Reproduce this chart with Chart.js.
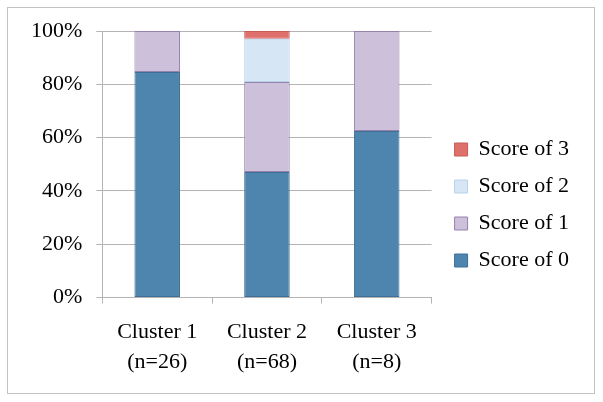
<!DOCTYPE html>
<html>
<head>
<meta charset="utf-8">
<script src="https://cdn.jsdelivr.net/npm/chart.js@4/dist/chart.umd.min.js"></script>
<style>
    html, body { margin: 0; padding: 0; background: #fff; }
    #frame {
        position: absolute; left: 7px; top: 7px;
        width: 586px; height: 385px;
        border: 1px solid #c3c3c3;
    }
    #wrap { position: absolute; left: 0; top: 0; width: 603px; height: 402px; }
</style>
</head>
<body>
<div id="frame"></div>
<div id="wrap"><canvas id="chart"></canvas></div>
<script>
// --- DATA ---
const clusters = [['Cluster 1', '(n=26)'], ['Cluster 2', '(n=68)'], ['Cluster 3', '(n=8)']];
const seriesNames = ['Score of 0', 'Score of 1', 'Score of 2', 'Score of 3'];
const score0 = [84.6, 47.1, 62.5];
const score1 = [15.4, 33.8, 37.5];
const score2 = [0, 16.2, 0];
const score3 = [0, 2.9, 0];
const yTicks = [0, 20, 40, 60, 80, 100];

// --- STYLE ---
const fills = ['#4e85ae', '#ccc0da', '#d6e6f5', '#de6f6a'];
const borders = ['#3f6f96', '#9583ad', '#b8d2ec', '#c95a55'];
const serif = "'Liberation Serif', 'Times New Roman', serif";
const gridColor = '#b4b4b4';
const legendGap = 8;    // extra room between plot and legend
const legendLift = -6;  // nudge legend items up

const seriesValues = [score0, score1, score2, score3];

const datasets = seriesValues.map((vals, i) => ({
    label: seriesNames[i],
    data: vals,
    backgroundColor: fills[i],
    borderColor: borders[i],
    borderWidth: 1,
    borderSkipped: false,
    barPercentage: 0.83,
    categoryPercentage: 0.5
}));

// widen the legend box on its left side so the plot ends earlier
const legendSpacer = {
    id: 'legendSpacer',
    beforeLayout(chart) {
        const lg = chart.legend;
        if (!lg || lg._spaced) return;
        lg._spaced = true;
        const fit = lg.fit;
        lg.fit = function () { fit.call(this); this.width += legendGap; };
        const draw = lg.draw;
        lg.draw = function () {
            const c = this.ctx;
            c.save();
            c.translate(legendGap, legendLift);
            draw.apply(this, arguments);
            c.restore();
        };
    }
};

window.onload = () => {
    const ctx = document.getElementById('chart').getContext('2d');
    new Chart(ctx, {
        type: 'bar',
        data: { labels: clusters, datasets: datasets },
        plugins: [legendSpacer],
        options: {
            responsive: true,
            maintainAspectRatio: false,
            animation: false,
            layout: { padding: { left: 17, right: 24, top: 31, bottom: 11 } },
            scales: {
                x: {
                    stacked: true,
                    grid: {
                        drawOnChartArea: false,
                        drawTicks: true,
                        tickLength: 6,
                        color: gridColor
                    },
                    border: { color: gridColor },
                    ticks: {
                        color: '#000',
                        padding: 14,
                        font: { family: serif, size: 22, lineHeight: 1.35 }
                    }
                },
                y: {
                    stacked: true,
                    min: 0,
                    max: 100,
                    afterBuildTicks: axis => { axis.ticks = yTicks.map(v => ({ value: v })); },
                    grid: { color: gridColor, tickLength: 6 },
                    border: { color: gridColor },
                    ticks: {
                        color: '#000',
                        padding: 14,
                        font: { family: serif, size: 22 },
                        callback: v => v + '%'
                    }
                }
            },
            plugins: {
                tooltip: { enabled: false },
                legend: {
                    position: 'right',
                    reverse: true,
                    labels: {
                        color: '#000',
                        boxWidth: 13,
                        boxHeight: 13,
                        padding: 15,
                        font: { family: serif, size: 22 }
                    }
                }
            }
        }
    });
};
</script>
</body>
</html>
